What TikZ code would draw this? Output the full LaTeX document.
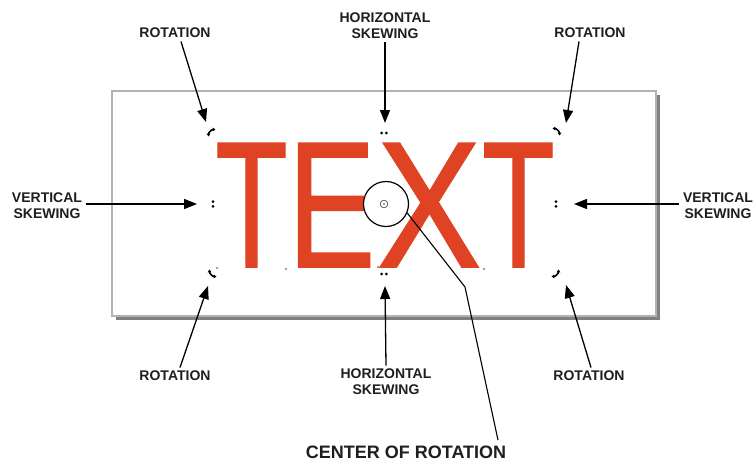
\documentclass[tikz,border=0pt]{standalone}
\usepackage{fontspec}
\setmainfont{Liberation Sans}
\newfontfamily\wordfont[FakeBold=1]{Liberation Sans}
\usetikzlibrary{arrows.meta}
\definecolor{textred}{RGB}{224,66,36}
\definecolor{panelgray}{RGB}{178,178,178}
\definecolor{shadowgray}{RGB}{128,128,128}
\definecolor{labelgray}{RGB}{30,30,30}

\tikzset{
  callout/.style={font=\bfseries\fontsize{14}{16}\selectfont, align=center, text=labelgray},
  pointer/.style={line width=1.3pt, -{Triangle[length=13pt,width=10pt]}},
  grip/.style={fill=black},
  turn/.style={line width=1.6pt, {Triangle[length=2.8pt,width=3.6pt]}-{Triangle[length=2.8pt,width=3.6pt]}},
}

\begin{document}
\begin{tikzpicture}[x=1pt, y=-1pt]
    \useasboundingbox (0,0) rectangle (756,464);

    % Panel with drop shadow
    \fill[shadowgray] (116,95) rectangle (660,320);
    \draw[panelgray, fill=white, line width=1.5pt] (112,91) rectangle (656,316);

    % Red word
    \node[inner sep=0pt, anchor=base west, text=textred, font=\wordfont\fontsize{180}{180}\selectfont] (word) at (215,267)
        {\scalebox{0.66}[1]{T}\scalebox{0.73}[1]{E}\kern1.4pt\scalebox{0.87}[1]{X}\kern0.9pt\scalebox{0.66}[1]{T}};

    % Node dots of the outline
    \foreach \px/\py in {217/268, 286/269, 378/267, 484/269}
        \fill[gray] (\px,\py) circle (1.2pt);

    % Handle positions
    \coordinate (h-tl) at (212,133);
    \coordinate (h-tm) at (384,133);
    \coordinate (h-tr) at (556,132);
    \coordinate (h-ml) at (213,204);
    \coordinate (h-mr) at (556,204);
    \coordinate (h-bl) at (213,273);
    \coordinate (h-bm) at (384,274);
    \coordinate (h-br) at (555,273);

    % Rotation handles
    \draw[turn] ([shift={(-3.5,3.5)}]h-tl) to[bend left=45] ([shift={(3.5,-3.5)}]h-tl);
    \draw[turn] ([shift={(-3.5,-3.5)}]h-tr) to[bend left=45] ([shift={(3.5,3.5)}]h-tr);
    \draw[turn] ([shift={(-3.5,-3.5)}]h-bl) to[bend right=45] ([shift={(3.5,3.5)}]h-bl);
    \draw[turn] ([shift={(3.5,-3.5)}]h-br) to[bend left=45] ([shift={(-3.5,3.5)}]h-br);

    % Skewing handles
    \foreach \h in {h-ml, h-mr} {
        \fill[grip] ([yshift=2.3pt]\h) circle (1.5pt);
        \fill[grip] ([yshift=-2.3pt]\h) circle (1.5pt);
    }
    \foreach \h in {h-tm, h-bm} {
        \fill[grip] ([xshift=2.3pt]\h) circle (1.5pt);
        \fill[grip] ([xshift=-2.3pt]\h) circle (1.5pt);
    }

    % Center of rotation
    \draw[gray!70!black, line width=0.8pt] (384,204) circle (3.8pt);
    \fill[gray!70!black] (384,204) circle (1pt);
    \node[draw, circle, line width=1.2pt, minimum size=45pt, inner sep=0pt] (cor) at (386,204) {};

    % Labels
    \node[callout] (rot-tl) at (175,33) {ROTATION};
    \node[callout] (hsk-t) at (385,26) {HORIZONTAL\\SKEWING};
    \node[callout] (rot-tr) at (590,33) {ROTATION};
    \node[callout] (vsk-l) at (47,206) {VERTICAL\\SKEWING};
    \node[callout] (vsk-r) at (718,206) {VERTICAL\\SKEWING};
    \node[callout] (rot-bl) at (175,376) {ROTATION};
    \node[callout] (hsk-b) at (386,382) {HORIZONTAL\\SKEWING};
    \node[callout] (rot-br) at (589,376) {ROTATION};
    \node[font=\bfseries\fontsize{18}{20}\selectfont, text=labelgray] (cor-lbl) at (406,452) {CENTER OF ROTATION};

    % Arrow tips
    \coordinate (tip-tl) at (206,122);
    \coordinate (tip-tm) at (385,123);
    \coordinate (tip-tr) at (566,123);
    \coordinate (tip-ml) at (197,204);
    \coordinate (tip-mr) at (574,204);
    \coordinate (tip-bl) at (208,286);
    \coordinate (tip-bm) at (385,286);
    \coordinate (tip-br) at (566,285);

    % Pointers
    \draw[pointer] ([xshift=6pt]rot-tl.south) -- (tip-tl);
    \draw[pointer] (hsk-t.south) -- (tip-tm);
    \draw[pointer] ([xshift=-11pt]rot-tr.south) -- (tip-tr);
    \draw[pointer] (vsk-l.east |- tip-ml) -- (tip-ml);
    \draw[pointer] (vsk-r.west |- tip-mr) -- (tip-mr);
    \draw[pointer] ([xshift=5pt]rot-bl.north) -- (tip-bl);
    \draw[pointer] (hsk-b.north) -- (tip-bm);
    \draw[pointer] ([xshift=2pt]rot-br.north) -- (tip-br);

    % Leader to the centre label
    \coordinate (cor-bend) at (465,287);
    \coordinate (cor-end) at (498,440);
    \draw[line width=1.1pt] (cor.-23) -- (cor-bend) -- (cor-end);
\end{tikzpicture}
\end{document}
